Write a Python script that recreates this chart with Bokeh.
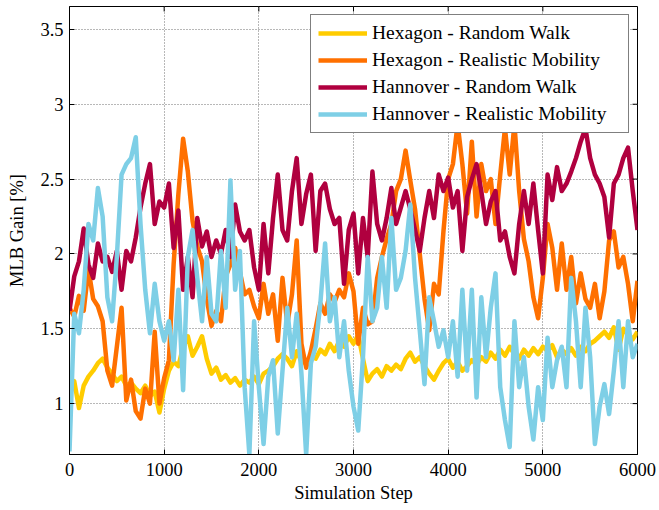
from bokeh.plotting import figure
from bokeh.models import Range1d, FixedTicker, CustomJSTickFormatter, Legend, LegendItem
from bokeh.embed import file_html
from bokeh.resources import INLINE

steps = list(range(0, 6001, 50))

hex_rw = [1.05, 1.15, 0.97, 1.12, 1.18, 1.22, 1.27, 1.30, 1.24, 1.20,
          1.15, 1.18, 1.12, 1.14, 1.10, 1.07, 1.12, 1.05, 1.08, 0.94,
          1.10, 1.22, 1.28, 1.25, 1.38, 1.45, 1.32, 1.38, 1.45, 1.30,
          1.20, 1.24, 1.16, 1.19, 1.14, 1.17, 1.12, 1.16, 1.14, 1.18,
          1.13, 1.20, 1.22, 1.25, 1.30, 1.33, 1.30, 1.25, 1.35, 1.28,
          1.27, 1.32, 1.30, 1.36, 1.33, 1.40, 1.35, 1.42, 1.38, 1.45,
          1.40, 1.46, 1.30, 1.15, 1.20, 1.23, 1.18, 1.25, 1.22, 1.26,
          1.23, 1.30, 1.34, 1.28, 1.31, 1.25, 1.20, 1.16, 1.22, 1.27,
          1.30, 1.24, 1.28, 1.22, 1.25, 1.29, 1.26, 1.31, 1.28, 1.34,
          1.30, 1.36, 1.32, 1.38, 1.33, 1.30, 1.36, 1.32, 1.37, 1.33,
          1.38, 1.35, 1.39, 1.31, 1.36, 1.33, 1.37, 1.32, 1.38, 1.35,
          1.40, 1.42, 1.45, 1.48, 1.44, 1.51, 1.36, 1.50, 1.46, 1.43,
          1.48]

hex_rm = [1.64, 1.58, 1.72, 1.62, 1.90, 1.70, 1.65, 1.55, 1.22, 1.12,
          1.38, 1.64, 1.02, 1.16, 0.95, 0.90, 1.10, 1.00, 1.48, 1.00,
          1.17, 1.29, 1.93, 2.40, 2.77, 2.55, 2.22, 2.05, 1.95, 1.70,
          1.52, 1.62, 1.55, 1.85, 1.93, 2.04, 1.88, 1.73, 1.76, 1.65,
          1.57, 1.80, 1.60, 1.73, 1.42, 1.84, 1.53, 1.73, 2.09, 1.40,
          1.24, 1.35, 1.50, 1.67, 1.60, 1.73, 1.68, 1.76, 1.71, 1.87,
          1.75, 1.40, 1.64, 1.53, 1.55, 1.84, 1.98, 2.10, 2.20, 2.42,
          2.50, 2.69, 2.49, 2.30, 2.00, 1.70, 1.49, 1.80, 1.73, 2.15,
          2.50, 2.60, 2.87, 2.60, 2.27, 2.75, 2.25, 2.60, 2.42, 2.50,
          2.20, 2.53, 2.84, 2.53, 2.87, 2.42, 2.10, 1.95, 1.71, 1.57,
          1.84, 2.20, 2.04, 1.76, 2.07, 1.76, 1.98, 1.67, 1.87, 1.70,
          1.64, 1.80, 1.57, 1.75, 2.09, 2.15, 1.91, 1.98, 1.80, 1.55,
          1.82]

han_rw = [1.62, 1.85, 1.95, 2.17, 1.93, 1.84, 2.07, 1.95, 1.98, 1.88,
          2.02, 1.76, 2.02, 1.95, 2.11, 2.31, 2.47, 2.60, 2.20, 2.35,
          2.31, 2.47, 2.04, 2.29, 1.76, 1.98, 1.71, 2.24, 2.05, 2.15,
          1.98, 2.09, 2.00, 2.16, 1.98, 2.33, 2.15, 2.09, 2.16, 1.91,
          1.76, 2.20, 1.87, 2.24, 2.53, 2.16, 2.09, 2.42, 2.64, 2.20,
          2.40, 2.53, 2.02, 2.42, 2.47, 2.30, 2.20, 2.24, 1.80, 2.16,
          2.27, 1.87, 2.24, 1.98, 2.55, 2.20, 2.09, 2.24, 2.44, 2.20,
          2.31, 2.42, 2.30, 2.16, 2.02, 2.24, 2.42, 2.24, 2.53, 2.42,
          2.51, 2.31, 2.42, 2.02, 2.38, 2.50, 2.60, 2.42, 2.20, 2.35,
          2.42, 2.09, 2.15, 1.98, 1.87, 2.20, 2.42, 2.20, 2.47, 2.16,
          1.87, 2.53, 2.36, 2.58, 2.42, 2.47, 2.55, 2.64, 2.75, 2.84,
          2.64, 2.53, 2.47, 2.38, 2.11, 2.47, 2.53, 2.64, 2.71, 2.42,
          2.16]

han_rm = [0.68, 1.60, 1.47, 1.76, 2.20, 2.09, 2.44, 2.25, 1.71, 1.55,
          1.98, 2.53, 2.60, 2.64, 2.78, 2.20, 1.76, 1.47, 1.80, 1.55,
          1.42, 1.55, 1.29, 1.76, 1.09, 1.98, 2.16, 1.84, 1.55, 1.98,
          1.60, 1.55, 2.02, 1.64, 2.49, 1.76, 2.02, 1.11, 0.66, 1.55,
          1.11, 0.73, 1.18, 1.29, 0.80, 1.22, 1.64, 1.31, 1.60, 1.20,
          0.66, 1.27, 1.38, 1.67, 2.07, 1.55, 1.71, 1.31, 1.55, 1.22,
          0.98, 0.82, 1.31, 1.98, 1.55, 1.64, 1.98, 1.64, 2.24, 1.76,
          1.84, 2.02, 2.33, 1.84, 1.49, 1.13, 1.71, 1.55, 1.38, 1.49,
          1.31, 1.55, 1.18, 1.76, 1.22, 1.76, 1.04, 1.71, 1.31, 1.64,
          1.87, 1.11, 0.89, 0.71, 1.55, 1.11, 1.31, 0.98, 0.76, 1.11,
          0.89, 1.44, 1.11, 1.29, 1.38, 1.11, 1.84, 1.55, 1.11, 1.64,
          1.31, 0.73, 0.98, 1.13, 0.93, 1.22, 1.55, 1.11, 1.55, 1.31,
          1.40]

labels = ["Hexagon - Random Walk", "Hexagon - Realistic Mobility",
          "Hannover - Random Walk", "Hannover - Realistic Mobility"]
colors = ["#FFCC00", "#FF7000", "#B0003F", "#7ECFE6"]
series = [hex_rw, hex_rm, han_rw, han_rm]

x_ticks = [0, 1000, 2000, 3000, 4000, 5000, 6000]
y_ticks = [1, 1.5, 2, 2.5, 3, 3.5]

X0, X1 = 0, 6000
Y0, Y1 = 0.66, 3.653
FONT = "Liberation Serif"

p = figure(width=659, height=510, x_range=Range1d(X0, X1), y_range=Range1d(Y0, Y1),
           output_backend="svg", toolbar_location=None,
           min_border_left=69, min_border_right=22, min_border_top=6, min_border_bottom=56)

p.outline_line_color = "black"
p.outline_line_width = 1

p.grid.grid_line_color = "#707070"
p.grid.grid_line_dash = "1 2"
p.grid.grid_line_width = 1
p.xgrid.ticker = FixedTicker(ticks=x_ticks)
p.ygrid.ticker = FixedTicker(ticks=y_ticks)

renderers = []
for ys, c in zip(series, colors):
    r = p.line(steps, ys, line_color=c, line_width=4.5, line_join="round")
    renderers.append(r)

# inward tick marks on the top and right edges of the box (MATLAB style)
fw, fh = 568.0, 448.0
dx = 5 * (X1 - X0) / fw
dy = 5 * (Y1 - Y0) / fh
p.segment(x0=x_ticks, y0=[Y1] * len(x_ticks), x1=x_ticks, y1=[Y1 - dy] * len(x_ticks),
          line_color="black", line_width=1)
p.segment(x0=[X1] * len(y_ticks), y0=y_ticks, x1=[X1 - dx] * len(y_ticks), y1=y_ticks,
          line_color="black", line_width=1)

for ax in [p.xaxis[0], p.yaxis[0]]:
    ax.major_tick_in = 5
    ax.major_tick_out = 0
    ax.minor_tick_line_color = None
    ax.axis_line_color = "black"
    ax.major_tick_line_color = "black"
    ax.major_label_text_font = FONT
    ax.major_label_text_font_size = "18.5px"
    ax.major_label_text_color = "black"
    ax.axis_label_text_font = FONT
    ax.axis_label_text_font_size = "18.5px"
    ax.axis_label_text_font_style = "normal"
    ax.axis_label_text_color = "black"

p.xaxis[0].ticker = FixedTicker(ticks=x_ticks)
p.yaxis[0].ticker = FixedTicker(ticks=y_ticks)
p.yaxis[0].formatter = CustomJSTickFormatter(code="return String(tick);")
p.xaxis[0].axis_label = "Simulation Step"
p.yaxis[0].axis_label = "MLB Gain [%]"
p.xaxis[0].major_label_standoff = 8
p.yaxis[0].major_label_standoff = 6
p.xaxis[0].axis_label_standoff = 4
p.yaxis[0].axis_label_standoff = 10

legend = Legend(items=[LegendItem(label=l, renderers=[r]) for l, r in zip(labels, renderers)],
                location="top_right")
legend.border_line_color = "black"
legend.border_line_width = 1
legend.background_fill_alpha = 1
legend.label_text_font = FONT
legend.label_text_font_size = "19.5px"
legend.label_text_color = "black"
legend.glyph_width = 49
legend.glyph_height = 20
legend.label_height = 20
legend.label_width = 249
legend.spacing = 5
legend.padding = 7
legend.margin = 8
legend.label_standoff = 5
p.add_layout(legend)

open("out.html", "w").write(file_html(p, INLINE))
